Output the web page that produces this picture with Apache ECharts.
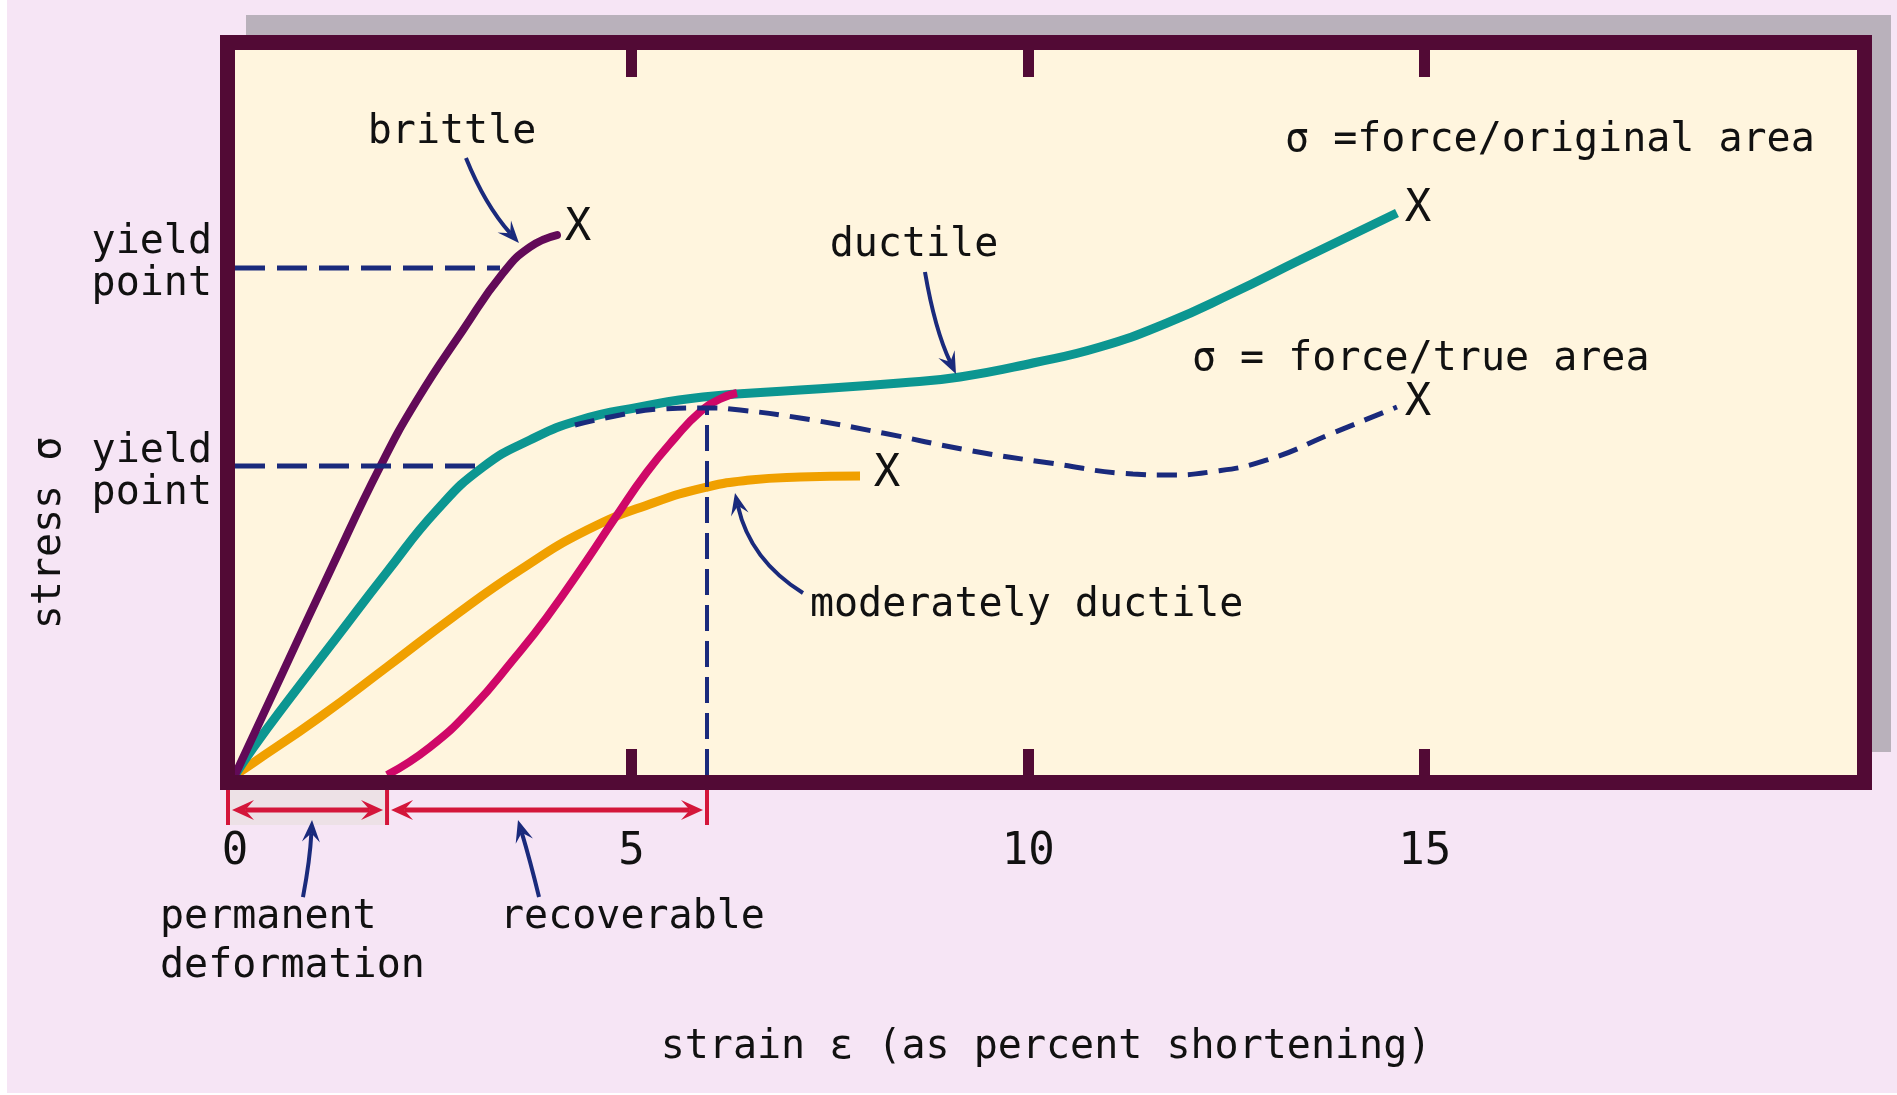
<!DOCTYPE html>
<html><head><meta charset="utf-8">
<script src="https://cdn.jsdelivr.net/npm/echarts@6/dist/echarts.min.js"></script>
<style>html,body{margin:0;padding:0;background:#fff}#c{width:1897px;height:1095px}</style>
</head><body><div id="c"></div>
<script>
// ---------------- data (strain %, stress in arbitrary units) ----------------
const xTickValues = [5, 10, 15];
const xLabelValues = [0, 5, 10, 15];
const brittle = [[0,0],[0.605,1.421],[1.223,2.869],[1.828,4.248],[2.295,5.172],[2.875,6.138],[3.379,6.924],[3.719,7.283],[4.059,7.448]];
const ductileOriginal = [[0,0],[0.227,0.372],[0.656,1.007],[1.286,1.903],[1.916,2.800],[2.547,3.655],[3.127,4.248],[3.719,4.621],[4.349,4.897],[5.106,5.076],[5.900,5.214],[7.123,5.310],[8.384,5.407],[9.140,5.490],[10.060,5.683],[10.905,5.903],[11.750,6.234],[12.582,6.648],[13.427,7.103],[14.650,7.752]];
const ductileTrue = [[4.286,4.828],[4.854,4.966],[5.358,5.048],[5.951,5.062],[6.367,5.034],[7.123,4.924],[8.169,4.717],[9.228,4.483],[10.275,4.303],[11.321,4.152],[11.750,4.138],[12.292,4.179],[13.011,4.345],[13.843,4.717],[14.650,5.076]];
const moderatelyDuctile = [[0,0],[0.227,0.166],[1.072,0.800],[1.916,1.490],[2.748,2.179],[3.593,2.828],[4.438,3.379],[5.270,3.752],[5.951,3.972],[6.493,4.069],[7.123,4.110],[7.880,4.124]];
const reloading = [[1.917,0],[2.458,0.386],[3.001,0.938],[3.505,1.586],[3.933,2.179],[4.438,2.966],[4.791,3.545],[5.194,4.179],[5.547,4.648],[5.862,5.007],[6.114,5.186],[6.329,5.269]];
const yieldStress = [6.993, 4.262];
const yieldStrain = [3.341, 3.127];
const unloadStrain = 5.951;
const unloadStress = 5.062;
const deformationBounds = [0, 1.917, 5.951];
const xMax = 20.45, yMax = 10;

// ---------------- annotation anchors (data coordinates) ----------------
const texts = [
  {t:'brittle', p:[2.736,8.855], a:'center'},
  {t:'yield\npoint', p:[-0.29,7.048], a:'right', lh:42},
  {t:'yield\npoint', p:[-0.29,4.166], a:'right', lh:42},
  {t:'stress σ', p:[-2.332,3.338], a:'center', rot:Math.PI/2},
  {t:'ductile', p:[8.560,7.297], a:'center'},
  {t:'σ =force/original area', p:[13.238,8.745], a:'left'},
  {t:'σ = force/true area', p:[12.065,5.724], a:'left'},
  {t:'X', p:[4.324,7.531], a:'center', fs:44},
  {t:'X', p:[14.914,7.793], a:'center', fs:44},
  {t:'X', p:[14.914,5.117], a:'center', fs:44},
  {t:'X', p:[8.220,4.138], a:'center', fs:44},
  {t:'moderately ductile', p:[7.249,2.331], a:'left'},
  {t:'permanent\ndeformation', p:[-0.946,-2.30], a:'left', lh:49},
  {t:'recoverable', p:[3.341,-1.972], a:'left'}
];
const pointers = [ // start, control, tip
  [[2.912,8.510],[3.152,7.862],[3.580,7.338]],
  [[8.699,6.938],[8.825,6.138],[9.090,5.531]],
  [[7.161,2.510],[6.493,2.966],[6.304,3.890]],
  [[0.857,-1.683],[0.946,-1.172],[0.971,-0.621]],
  [[3.833,-1.683],[3.719,-1.172],[3.568,-0.621]]
];

const FONT = "'DejaVu Sans Mono', monospace";
const C = {frame:'#520A35', cream:'#FFF5DE', bg:'#F6E5F5', shadow:'#B9B1BB', navy:'#1A2A7C', red:'#D4163A', text:'#111'};

const chart = echarts.init(document.getElementById('c'));
const curve = (data, color, w, cap) => ({type:'line', data, symbol:'none', smooth:0.5, silent:true, lineStyle:{color, width:w, cap:cap || 'butt'}});
const dashed = (data, w, pattern) => ({type:'line', data, symbol:'none', silent:true, lineStyle:{color:C.navy, width:w, type:pattern}});
chart.setOption({
  backgroundColor: C.bg,
  animation: false,
  grid: {left:235, top:50, width:1622, height:725, show:false},
  xAxis: [
    {type:'value', min:0, max:xMax, position:'bottom', z:3,
     axisLine:{show:false}, splitLine:{show:false},
     axisTick:{show:true, inside:true, length:26, customValues:xTickValues, lineStyle:{color:C.frame, width:11}},
     axisLabel:{customValues:xLabelValues, margin:56, fontFamily:FONT, fontSize:44, color:C.text},
     name:'strain ε (as percent shortening)', nameLocation:'middle', nameGap:253,
     nameTextStyle:{fontFamily:FONT, fontSize:40, color:C.text}},
    {type:'value', min:0, max:xMax, position:'top', z:3,
     axisLine:{show:false}, splitLine:{show:false}, axisLabel:{show:false},
     axisTick:{show:true, inside:true, length:27, customValues:xTickValues, lineStyle:{color:C.frame, width:11}}}
  ],
  yAxis: {type:'value', min:0, max:yMax, show:false},
  series: [
    curve(moderatelyDuctile, '#F0A000', 9),
    curve(ductileOriginal, '#0C9691', 9),
    curve(brittle, '#620A58', 8, 'round'),
    curve(reloading, '#CF0868', 8),
    Object.assign(dashed(ductileTrue, 5, [20,11]), {smooth:0.5}),
    dashed([[0,yieldStress[0]],[yieldStrain[0],yieldStress[0]]], 5, [30,12]),
    dashed([[0,yieldStress[1]],[yieldStrain[1],yieldStress[1]]], 5, [30,12]),
    dashed([[unloadStrain,0],[unloadStrain,unloadStress]], 4, [26,10])
  ]
});

const P = (x, y) => chart.convertToPixel({gridIndex:0}, [x, y]);
function head(tip, from, L, W, notch) {
  let dx = tip[0]-from[0], dy = tip[1]-from[1];
  const n = Math.hypot(dx, dy); dx/=n; dy/=n;
  const nx = -dy, ny = dx;
  return {pts:[tip, [tip[0]-dx*L+nx*W, tip[1]-dy*L+ny*W], [tip[0]-dx*L*notch, tip[1]-dy*L*notch], [tip[0]-dx*L-nx*W, tip[1]-dy*L-ny*W]],
          base:[tip[0]-dx*L*notch, tip[1]-dy*L*notch]};
}
const [gx0, gy1] = P(0, 0);
const [gx1, gy0] = P(xMax, yMax);
const g = [];
g.push({type:'rect', z:0, shape:{x:0, y:0, width:7, height:1095}, style:{fill:'#fff'}});
g.push({type:'rect', z:0, shape:{x:0, y:1093, width:1897, height:2}, style:{fill:'#fff'}});
g.push({type:'rect', z:0, shape:{x:gx0+11, y:gy0-35, width:gx1-gx0+23, height:gy1-gy0+12}, style:{fill:C.shadow}});
g.push({type:'rect', z:1, shape:{x:gx0, y:gy0, width:gx1-gx0, height:gy1-gy0}, style:{fill:C.cream}});
g.push({type:'rect', z:6, shape:{x:gx0-7.5, y:gy0-7.5, width:gx1-gx0+15, height:gy1-gy0+15}, style:{fill:null, stroke:C.frame, lineWidth:15}});
// dimension arrows under the axis
const bx = deformationBounds.map((v, i) => P(v, 0)[0] - (i === 0 ? 7 : 0));
const ry0 = gy1 + 15, ry1 = gy1 + 50, ray = gy1 + 35;
g.push({type:'rect', z:1, shape:{x:bx[0], y:ry0, width:bx[1]-bx[0], height:ry1-ry0}, style:{fill:'#EDE1E6'}});
bx.forEach(x => g.push({type:'line', z:7, shape:{x1:x, y1:ry0, x2:x, y2:ry1}, style:{stroke:C.red, lineWidth:4}}));
for (let i = 0; i < bx.length-1; i++) {
  const a = [bx[i]+4, ray], b = [bx[i+1]-4, ray];
  const h1 = head(a, b, 22, 10, 0.6), h2 = head(b, a, 22, 10, 0.6);
  g.push({type:'line', z:7, shape:{x1:h1.base[0], y1:ray, x2:h2.base[0], y2:ray}, style:{stroke:C.red, lineWidth:5}});
  g.push({type:'polygon', z:7, shape:{points:h1.pts}, style:{fill:C.red}});
  g.push({type:'polygon', z:7, shape:{points:h2.pts}, style:{fill:C.red}});
}
// pointer arrows
pointers.forEach(([s, c, t]) => {
  const S = P(s[0], s[1]), Cp = P(c[0], c[1]), T = P(t[0], t[1]);
  const h = head(T, Cp, 22, 9, 0.6);
  g.push({type:'bezierCurve', z:7, shape:{x1:S[0], y1:S[1], x2:h.base[0], y2:h.base[1], cpx1:Cp[0], cpy1:Cp[1]}, style:{stroke:C.navy, lineWidth:4, fill:null}});
  g.push({type:'polygon', z:7, shape:{points:h.pts}, style:{fill:C.navy}});
});
// texts
texts.forEach(o => {
  const q = P(o.p[0], o.p[1]);
  g.push({type:'text', z:8, x:q[0], y:q[1], rotation:o.rot || 0,
    style:{text:o.t, fill:C.text, fontFamily:FONT, fontSize:o.fs || 40, align:o.a, verticalAlign:'middle', lineHeight:o.lh}});
});
chart.setOption({graphic: g});
</script></body></html>
